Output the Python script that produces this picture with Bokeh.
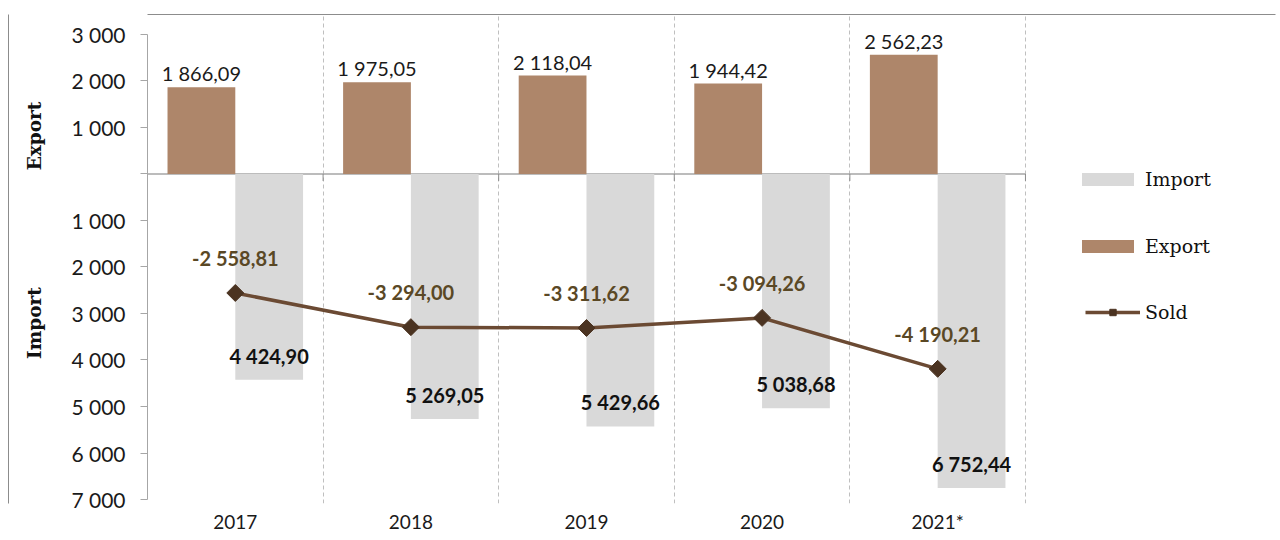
from math import pi
from bokeh.plotting import figure
from bokeh.models import (ColumnDataSource, FixedTicker, Legend,
                          LegendItem, Range1d, LinearAxis)
from bokeh.transform import dodge
from bokeh.core.properties import value
from bokeh.embed import file_html
from bokeh.resources import INLINE

# ---------------- data ----------------
years = ["2017", "2018", "2019", "2020", "2021*"]
export_vals = [1866.09, 1975.05, 2118.04, 1944.42, 2562.23]
import_vals = [4424.90, 5269.05, 5429.66, 5038.68, 6752.44]
sold_vals = [-2558.81, -3294.00, -3311.62, -3094.26, -4190.21]
y_ticks = [3000, 2000, 1000, 0, -1000, -2000, -3000, -4000, -5000, -6000, -7000]
axis_titles = ["Export", "Import"]
axis_title_pos = [817, -3204]

EXPORT_C = "#AE866A"
IMPORT_C = "#D9D9D9"
LINE_C = "#6B4A33"
MARK_C = "#4B3321"
SOLD_TXT_C = "#5A4825"
BORDER_C = "#8C8C8C"
NUM_FONT = "Lato"
SERIF = "DejaVu Serif"


def fmt(v):
    s = f"{abs(v):,.2f}".replace(",", " ").replace(".", ",")
    return ("-" if v < 0 else "") + s


def tick_lbl(t):
    if t == 0:
        return ""
    return f"{abs(t):,}".replace(",", " ")


n = len(years)
idx = list(range(n))
src = ColumnDataSource(dict(
    x=idx,
    exp=export_vals,
    imp_neg=[-v for v in import_vals],
    sold=sold_vals,
    exp_lbl=[fmt(v) for v in export_vals],
    imp_lbl=[fmt(v) for v in import_vals],
    sold_lbl=[fmt(v) for v in sold_vals],
))

W, H = 1278, 538
# frame spans to the right edge; extra room on the right holds the legend
p = figure(width=W, height=H,
           x_range=Range1d(-0.5, n - 0.5 + 1.424),
           y_range=Range1d(-7086, 3430),
           output_backend="svg", toolbar_location=None,
           min_border_left=147, min_border_right=3,
           min_border_top=14, min_border_bottom=35)
p.outline_line_color = None
p.background_fill_color = "white"
p.border_fill_color = "white"

# main y axis
yax = p.yaxis[0]
yax.ticker = FixedTicker(ticks=y_ticks)
yax.major_label_overrides = {t: tick_lbl(t) for t in y_ticks}
yax.bounds = (min(y_ticks), max(y_ticks))
yax.axis_line_color = "#A6A6A6"
yax.major_tick_line_color = "#A6A6A6"
yax.major_tick_out = 7
yax.major_tick_in = 0
yax.minor_tick_line_color = None
yax.major_label_standoff = 15
yax.major_label_text_font = NUM_FONT
yax.major_label_text_font_size = "21px"
yax.major_label_text_color = "#1A1A1A"

# category (x) axis
xax = p.xaxis[0]
xax.ticker = FixedTicker(ticks=idx)
xax.major_label_overrides = {i: y for i, y in enumerate(years)}
xax.axis_line_color = None
xax.major_tick_line_color = None
xax.minor_tick_line_color = None
xax.major_label_standoff = 0
xax.major_label_text_font = NUM_FONT
xax.major_label_text_font_size = "19px"
xax.major_label_text_color = "#1A1A1A"

# axis titles as a second left axis
title_axis = LinearAxis(ticker=FixedTicker(ticks=axis_title_pos),
                        major_label_overrides={t: s for t, s in zip(axis_title_pos, axis_titles)},
                        axis_line_color=None, major_tick_line_color=None,
                        minor_tick_line_color=None,
                        major_label_orientation="vertical",
                        major_label_standoff=17,
                        major_label_text_font=SERIF,
                        major_label_text_font_style="bold",
                        major_label_text_font_size="18.5px",
                        major_label_text_color="#111111",
                        axis_label=" ", axis_label_standoff=8,
                        axis_label_text_font_size="2px")
p.add_layout(title_axis, "left")

# outer chart-area border (left and top edges)
left_border = LinearAxis(ticker=FixedTicker(ticks=[]), axis_line_color=BORDER_C,
                         axis_line_width=1, major_tick_line_color=None,
                         minor_tick_line_color=None, major_label_standoff=0,
                         major_tick_out=0, major_tick_in=0)
p.add_layout(left_border, "left")
top_border = LinearAxis(ticker=FixedTicker(ticks=[]), axis_line_color=BORDER_C,
                        axis_line_width=1, major_tick_line_color=None,
                        minor_tick_line_color=None, major_label_standoff=0,
                        major_tick_out=0, major_tick_in=0)
p.add_layout(top_border, "above")

# grids
p.ygrid.visible = False
p.xgrid.ticker = FixedTicker(ticks=[i + 0.5 for i in idx])
p.xgrid.bounds = (min(y_ticks), max(y_ticks))
p.xgrid.grid_line_color = "#BFBFBF"
p.xgrid.grid_line_dash = "4 3"
p.xgrid.grid_line_width = 1

# zero (category) axis line with its small ticks
p.segment(x0=[-0.5], y0=[0], x1=[n - 0.5], y1=[0],
          line_color="#A6A6A6", line_width=1.5)
p.segment(x0=[i + 0.5 for i in idx], y0=[0] * n,
          x1=[i + 0.5 for i in idx], y1=[-150] * n,
          line_color="#8C8C8C", line_width=1)

BW = 0.386
imp_r = p.vbar(x=dodge("x", BW / 2), top=0, bottom="imp_neg", width=BW,
               source=src, fill_color=IMPORT_C, line_color=None)
exp_r = p.vbar(x=dodge("x", -BW / 2), top="exp", bottom=0, width=BW,
               source=src, fill_color=EXPORT_C, line_color=None)
line_r = p.line("x", "sold", source=src, line_color=LINE_C, line_width=3.5)
scat_r = p.scatter("x", "sold", source=src, marker="square", angle=pi / 4,
                   size=12, fill_color=MARK_C, line_color=MARK_C)

# data labels
p.text(x=dodge("x", -BW / 2), y="exp", text="exp_lbl", source=src,
       text_align="center", text_baseline="middle", y_offset=-14,
       text_font=value(NUM_FONT), text_font_size="20px", text_color="#1A1A1A")
p.text(x=dodge("x", BW / 2), y="imp_neg", text="imp_lbl", source=src,
       text_align="center", text_baseline="middle", y_offset=-24,
       text_font=value(NUM_FONT), text_font_style="bold",
       text_font_size="20px", text_color="#111111")
p.text(x="x", y="sold", text="sold_lbl", source=src,
       text_align="center", text_baseline="middle", y_offset=-35,
       text_font=value(NUM_FONT), text_font_style="bold",
       text_font_size="20px", text_color=SOLD_TXT_C)

leg_style = dict(orientation="vertical", label_height=26, padding=0, margin=0,
                 label_standoff=5, border_line_color=None, background_fill_alpha=0,
                 label_text_font=SERIF, label_text_font_size="19px",
                 label_text_color="#111111")
bar_legend = Legend(items=[
    LegendItem(label="Import", renderers=[imp_r]),
    LegendItem(label="Export", renderers=[exp_r]),
], location=(928, 244), glyph_width=65, glyph_height=16, spacing=41, **leg_style)
line_legend = Legend(items=[
    LegendItem(label="Sold", renderers=[line_r, scat_r]),
], location=(938, 178), glyph_width=55, glyph_height=16, **leg_style)
p.add_layout(bar_legend)
p.add_layout(line_legend)

open("out.html", "w").write(file_html(p, INLINE))
